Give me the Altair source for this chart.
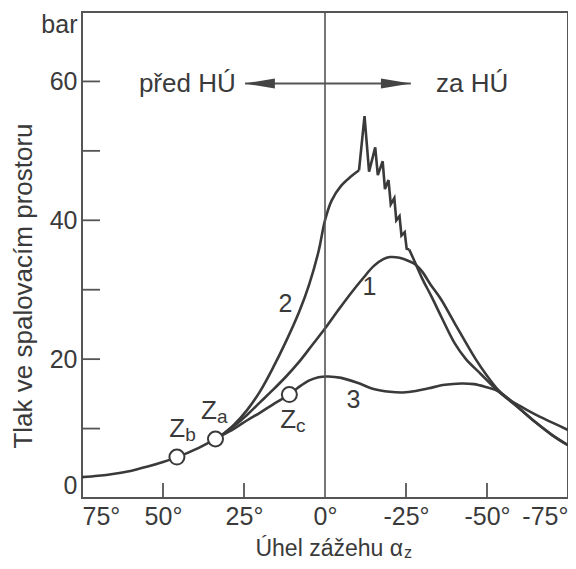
import altair as alt
import pandas as pd

# ---------------- data ----------------
base_x = [75, 70, 65, 60, 55, 50, 45, 40, 35, 32]
base_y = [3.0, 3.2, 3.5, 3.9, 4.5, 5.2, 6.0, 7.0, 8.2, 9.0]

c1_x = [32, 28, 24, 20, 16, 12, 8, 4, 0, -4, -8, -12, -15, -18, -20, -23, -26, -28, -30,
        -32.5, -35.7, -40, -46.5, -50, -53, -56, -60, -65, -70, -75]
c1_y = [9.0, 10.4, 12.0, 13.8, 15.6, 17.5, 19.6, 22.0, 24.4, 27.0, 29.5, 31.8, 33.4, 34.4,
        34.7, 34.6, 34.1, 33.6, 32.6, 30.8, 28.7, 25.2, 20.0, 17.6, 15.8, 14.5, 13.3, 12.0, 10.9, 9.8]

c2_rise_x = [32, 28, 24, 20, 16, 12, 8, 5, 2, 0, -2, -5, -8, -10.5]
c2_rise_y = [9.0, 10.6, 12.7, 15.4, 18.8, 22.6, 26.8, 30.6, 35.5, 40.0, 42.8, 45.0, 46.3, 47.2]

c2_saw_x = [-10.5, -12.2, -13.6, -15.5, -16.3, -17.8, -18.5, -19.6, -20.3, -21.4, -22.0,
            -23.0, -23.6, -24.6, -25.2, -26.0]
c2_saw_y = [47.2, 55.0, 47.0, 50.5, 46.5, 48.5, 44.5, 45.8, 42.3, 43.2, 40.0,
            40.6, 37.8, 38.3, 35.9, 35.8]

c2_fall_x = [-26, -28, -30, -33, -36, -40, -43.5, -48, -53.4, -60, -65, -70, -75]
c2_fall_y = [35.8, 33.7, 31.6, 28.9, 26.0, 22.3, 20.0, 17.9, 15.4, 12.9, 10.9, 9.1, 7.6]

c3_x = [32, 28, 24, 20, 16, 11, 8, 5, 2, -1, -5, -10, -15, -20, -24, -28, -32, -37, -42,
        -46, -49.5, -53.4, -60, -65, -70, -75]
c3_y = [9.0, 10.0, 11.2, 12.3, 13.5, 14.9, 16.0, 16.9, 17.4, 17.5, 17.3, 16.6, 15.7, 15.3,
        15.2, 15.4, 15.8, 16.3, 16.5, 16.4, 16.0, 15.4, 12.9, 10.9, 9.1, 7.6]

# ignition points Zb, Za, Zc
z_x = [45.7, 33.8, 11.0]
z_y = [5.9, 8.5, 14.9]
zlab_x = [45.6, 35.8, 11.4]
zlab_y = [9.9, 12.5, 11.3]
zlab_sub = ["b", "a", "c"]

# curve numbers
num_x = [-13.7, 12.2, -8.8]
num_y = [30.4, 28.0, 14.1]
num_t = ["1", "2", "3"]

# arrow  před HÚ <-> za HÚ
arrow_tips = [24.7, -26.5]
arrow_y = 59.7
head_x = [20.1, -21.9]
side_x = [42.5, -45.4]
side_t = ["před HÚ", "za HÚ"]

x_ticks = [75, 50, 25, 0, -25, -50, -75]
x_minor = [50, 25, -25, -50]
y_labels = [0, 20, 40, 60, 70]
y_minor = [10, 20, 30, 40, 50, 60]

# ---------------- tables ----------------
def seg(name, xs, ys):
    return pd.DataFrame({"seg": name, "o": range(len(xs)), "x": xs, "y": ys})

smooth = pd.concat([
    seg("base", base_x, base_y),
    seg("c1", c1_x, c1_y),
    seg("c2a", c2_rise_x, c2_rise_y),
    seg("c2c", c2_fall_x, c2_fall_y),
    seg("c3", c3_x, c3_y),
])
jag = seg("c2b", c2_saw_x, c2_saw_y)

FONT = "Liberation Sans"
INK = "#3a3a3a"
W, H = 486, 486

xscale = alt.Scale(domain=[-75, 75], reverse=True, nice=False, zero=False)
yscale = alt.Scale(domain=[0, 70], nice=False)
xaxis = alt.Axis(values=x_ticks, labelExpr="datum.value + '°'", labelFlush=True,
                 ticks=False, domain=False, grid=False, labelFontSize=25, labelFont=FONT,
                 labelColor=INK, labelPadding=6, labelOverlap=False, title=None)
yaxis = alt.Axis(values=y_labels, labelExpr="datum.value == 70 ? 'bar' : datum.label",
                 labelFlush=True, ticks=False, domain=False, grid=False, labelFontSize=25,
                 labelFont=FONT, labelColor=INK, labelPadding=5, labelOverlap=False, title=None)

def X(f="x"):
    return alt.X(f"{f}:Q", scale=xscale, axis=xaxis, title=None)

def Y(f="y"):
    return alt.Y(f"{f}:Q", scale=yscale, axis=yaxis, title=None)

zero_line = alt.Chart(pd.DataFrame({"x": [0]})).mark_rule(color="#555", strokeWidth=1.6).encode(x=X())

arrow_df = pd.DataFrame({"x": [arrow_tips[0]], "x2": [arrow_tips[1]], "y": [arrow_y]})
arrow = alt.Chart(arrow_df).mark_rule(color="#555", strokeWidth=1.8).encode(
    x=X(), x2="x2:Q", y=Y())
heads_df = pd.DataFrame({"x": head_x, "y": [arrow_y, arrow_y],
                         "shape": ["M-1,0L1,-0.34L1,0.34Z", "M1,0L-1,-0.34L-1,0.34Z"]})
heads = alt.Chart(heads_df).mark_point(filled=True, size=900, color="#444", opacity=1).encode(
    x=X(), y=Y(), shape=alt.Shape("shape:N", scale=None, legend=None))

side = alt.Chart(pd.DataFrame({"x": side_x, "y": [arrow_y] * 2, "t": side_t})).mark_text(
    fontSize=26, font=FONT, color=INK, baseline="middle").encode(x=X(), y=Y(), text="t:N")

yt = alt.Chart(pd.DataFrame({"y": y_minor})).mark_rule(color="#555", strokeWidth=1.8).encode(
    y=Y(), x=alt.value(0), x2=alt.value(18))
xt = alt.Chart(pd.DataFrame({"x": x_minor})).mark_rule(color="#555", strokeWidth=1.8).encode(
    x=X(), y=alt.value(H), y2=alt.value(H - 15))

lines = alt.Chart(smooth).mark_line(interpolate="catmull-rom", color=INK, strokeWidth=2.6).encode(
    x=X(), y=Y(), detail="seg:N", order="o:Q")
jagged = alt.Chart(jag).mark_line(color=INK, strokeWidth=2.6, strokeJoin="miter").encode(
    x=X(), y=Y(), order="o:Q")

circles = alt.Chart(pd.DataFrame({"x": z_x, "y": z_y})).mark_point(
    shape="circle", size=225, filled=True, fill="white", stroke=INK, strokeWidth=2,
    opacity=1).encode(x=X(), y=Y())

zdf = pd.DataFrame({"x": zlab_x, "y": zlab_y, "sub": zlab_sub, "z": ["Z"] * 3})
zl = alt.Chart(zdf).mark_text(fontSize=26, font=FONT, color=INK, baseline="middle").encode(
    x=X(), y=Y(), text="z:N")
zs = alt.Chart(zdf).mark_text(fontSize=19, font=FONT, color=INK, baseline="middle",
                              align="left", dx=8, dy=6).encode(x=X(), y=Y(), text="sub:N")

nums = alt.Chart(pd.DataFrame({"x": num_x, "y": num_y, "t": num_t})).mark_text(
    fontSize=25, font=FONT, color=INK, baseline="middle").encode(x=X(), y=Y(), text="t:N")

ytitle = alt.Chart(pd.DataFrame({"t": ["Tlak ve spalovacím prostoru"]})).mark_text(
    fontSize=26, font=FONT, color=INK, angle=270, align="center", baseline="alphabetic").encode(
    x=alt.value(-50), y=alt.value(274), text="t:N")
xtitle = alt.Chart(pd.DataFrame({"t": ["Úhel zážehu α"]})).mark_text(
    fontSize=23, font=FONT, color=INK, align="right", baseline="alphabetic").encode(
    x=alt.value(321), y=alt.value(H + 58), text="t:N")
xsub = alt.Chart(pd.DataFrame({"t": ["z"]})).mark_text(
    fontSize=16, font=FONT, color=INK, align="left", baseline="alphabetic").encode(
    x=alt.value(322), y=alt.value(H + 59.5), text="t:N")

chart = alt.layer(
    lines, jagged, zero_line, yt, xt, arrow, heads, side, circles, zl, zs, nums,
    ytitle, xtitle, xsub
).properties(
    width=W, height=H,
    autosize=alt.AutoSizeParams(type="none"),
    padding={"left": 74, "top": 4, "right": 0, "bottom": 63},
).configure_view(stroke="#555", strokeWidth=2)

chart.save("out.html", embed_options={"renderer": "svg", "actions": False})
